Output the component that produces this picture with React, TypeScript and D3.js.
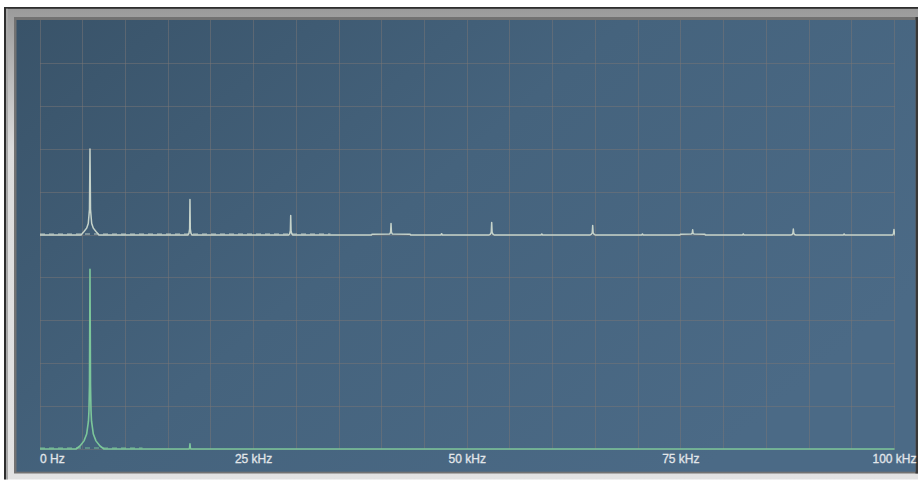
import React from "react";
import * as d3 from "d3";

const W = 920;
const H = 482;

// Frequency axis, kHz
const freqDomain: [number, number] = [0, 100];
const gridStepKHz = 5;
const gridRows = 10;
const tickValues = [0, 25, 50, 75, 100];
const tickLabels = ["0 Hz", "25 kHz", "50 kHz", "75 kHz", "100 kHz"];

// Odd harmonics of the fundamental, kHz
const harmonicsKHz = [5.85, 17.55, 29.34, 41.08, 52.86, 64.68, 76.38, 88.16, 99.94];
// Line levels in grid divisions
const upperLevels = [2.01, 0.83, 0.455, 0.27, 0.29, 0.22, 0.12, 0.14, 0.13];
const lowerLevels = [4.2, 0.12, 0, 0, 0, 0, 0, 0, 0];

// Even-harmonic residue in the upper trace
const upperEvenKHz = [47.0, 58.72, 70.5, 82.3, 94.1];
const upperEvenLevels = [0.03, 0.025, 0.025, 0.025, 0.025];

// One-sided skirt around each line: [offset kHz, level]
const upperSkirts: [number, number][][] = [
  [[0.06, 0.6], [0.2, 0.27], [0.39, 0.16], [0.7, 0.08], [1.05, 0]],
  [[0.04, 0.14], [0.12, 0.04], [0.25, 0]],
  [[0.04, 0.1], [0.12, 0.03], [0.25, 0]],
  [[0.05, 0.06], [0.15, 0.025], [2.2, 0.02], [2.3, 0]],
  [[0.05, 0.06], [0.15, 0.02], [0.3, 0]],
  [[0.05, 0.05], [0.15, 0.02], [0.3, 0]],
  [[0.05, 0.04], [0.15, 0.025], [1.4, 0.02], [1.5, 0]],
  [[0.05, 0.04], [0.15, 0.01], [0.3, 0]],
  [[0.05, 0.04], [0.15, 0]],
];
const lowerSkirts: [number, number][][] = [
  [[0.06, 1.5], [0.12, 0.9], [0.18, 0.65], [0.39, 0.35], [0.7, 0.19], [1.17, 0.07], [1.64, 0]],
  [[0.05, 0.02], [0.1, 0]],
  [], [], [], [], [], [], [],
];

// Spans where the noise floor flickers
const upperNoiseSpan = [0, 34];
const lowerNoiseSpan = [0, 12];

type Pt = [number, number];

function buildTrace(
  freqs: number[],
  levels: number[],
  skirts: [number, number][][],
  extraFreqs: number[] = [],
  extraLevels: number[] = []
): Pt[] {
  const lines = freqs
    .map((f, i) => ({ f, level: levels[i], skirt: skirts[i] }))
    .filter((d) => d.level > 0)
    .concat(
      extraFreqs.map((f, i) => ({ f, level: extraLevels[i], skirt: [[0.1, 0]] as [number, number][] }))
    )
    .sort((a, b) => a.f - b.f);
  const pts: Pt[] = [[freqDomain[0], 0]];
  for (const ln of lines) {
    for (let k = ln.skirt.length - 1; k >= 0; k--) pts.push([ln.f - ln.skirt[k][0], ln.skirt[k][1]]);
    pts.push([ln.f, ln.level]);
    for (const s of ln.skirt) pts.push([ln.f + s[0], s[1]]);
  }
  pts.push([freqDomain[1], 0]);
  return pts;
}

export default function App() {
  const plotLeft = 40;
  const plotRight = 894.5;
  const plotTop = 21;
  const plotBottom = 449;

  const x = d3.scaleLinear().domain(freqDomain).range([plotLeft, plotRight]);
  const gridY = d3.scaleLinear().domain([0, gridRows]).range([plotTop, plotBottom]);
  const mid = gridY(gridRows / 2);
  const yUpper = d3.scaleLinear().domain([0, gridRows / 2]).range([mid, plotTop]);
  const yLower = d3.scaleLinear().domain([0, gridRows / 2]).range([plotBottom, mid]);

  const upperTrace = buildTrace(harmonicsKHz, upperLevels, upperSkirts, upperEvenKHz, upperEvenLevels);
  const lowerTrace = buildTrace(harmonicsKHz, lowerLevels, lowerSkirts);

  const lineUpper = d3.line<Pt>().x((d) => x(d[0])).y((d) => yUpper(d[1]));
  const lineLower = d3.line<Pt>().x((d) => x(d[0])).y((d) => yLower(d[1]));

  const vGrid = d3.range(freqDomain[0], freqDomain[1] + 0.001, gridStepKHz);
  const hGrid = d3.range(1, gridRows + 1);

  const gridColor = "rgba(122,118,118,0.5)";
  const upperColor = "#c6d3ca";
  const lowerColor = "#7cc69a";

  return (
    <svg
      width={W}
      height={H}
      viewBox={`0 0 ${W} ${H}`}
      style={{ position: "absolute", left: 0, top: 0, background: "#ffffff" }}
    >
      <defs>
        <linearGradient id="panelBg" x1="0" y1="0" x2="1" y2="0.6">
          <stop offset="0" stopColor="#395369" />
          <stop offset="0.5" stopColor="#45637d" />
          <stop offset="1" stopColor="#4b6a86" />
        </linearGradient>
        <linearGradient id="bevelTop" x1="0" y1="0" x2="0" y2="1">
          <stop offset="0" stopColor="#9a9a9a" />
          <stop offset="0.3" stopColor="#dcdcdc" />
          <stop offset="1" stopColor="#e2e2e2" />
        </linearGradient>
        <clipPath id="plotClip">
          <rect x={plotLeft - 1} y={plotTop - 2} width={plotRight - plotLeft + 1.5} height={plotBottom - plotTop + 6} />
        </clipPath>
      </defs>

      {/* bevelled frame */}
      <rect x={4} y={7} width={914} height={472.5} fill="url(#bevelTop)" />
      <rect x={4} y={7} width={914} height={1.8} fill="#2e2e2e" />
      <rect x={4} y={7} width={2} height={472.5} fill="#2e2e2e" />
      <rect x={6} y={8.8} width={2} height={470.7} fill="#a8a8a8" />
      <rect x={14} y={17} width={904} height={456.5} fill="#727272" />
      <rect x={915.5} y={17} width={2.5} height={456.5} fill="#383838" />

      {/* display panel */}
      <rect x={16.5} y={20} width={899} height={451.7} fill="url(#panelBg)" />

      {/* grid */}
      <g stroke={gridColor} strokeWidth={1} shapeRendering="crispEdges">
        {vGrid.map((f) => (
          <line key={`v${f}`} x1={x(f)} x2={x(f)} y1={20} y2={plotBottom} />
        ))}
        {hGrid.map((r) => (
          <line key={`h${r}`} x1={plotLeft} x2={plotRight} y1={gridY(r)} y2={gridY(r)} />
        ))}
      </g>

      {/* spectra */}
      <g clipPath="url(#plotClip)" fill="none" strokeLinejoin="round">
        <path d={lineUpper(upperTrace) ?? ""} stroke={upperColor} strokeWidth={1.5} />
        <line
          x1={x(upperNoiseSpan[0])}
          x2={x(upperNoiseSpan[1])}
          y1={yUpper(0) - 1}
          y2={yUpper(0) - 1}
          stroke={upperColor}
          strokeWidth={1}
          strokeDasharray="5 4"
          opacity={0.9}
        />
        <path d={lineLower(lowerTrace) ?? ""} stroke={lowerColor} strokeWidth={1.6} />
        <line
          x1={x(lowerNoiseSpan[0])}
          x2={x(lowerNoiseSpan[1])}
          y1={yLower(0) - 1}
          y2={yLower(0) - 1}
          stroke={lowerColor}
          strokeWidth={1}
          strokeDasharray="5 4"
          opacity={0.9}
        />
      </g>

      {/* frequency labels */}
      <g
        fontFamily="'Liberation Sans', Arial, sans-serif"
        fontSize={12}
        fill="#e2e6ea"
        stroke="#e2e6ea"
        strokeWidth={0.3}
      >
        {tickValues.map((f, i) => (
          <text key={f} x={x(f)} y={463} textAnchor={i === 0 ? "start" : "middle"}>
            {tickLabels[i]}
          </text>
        ))}
      </g>
    </svg>
  );
}
